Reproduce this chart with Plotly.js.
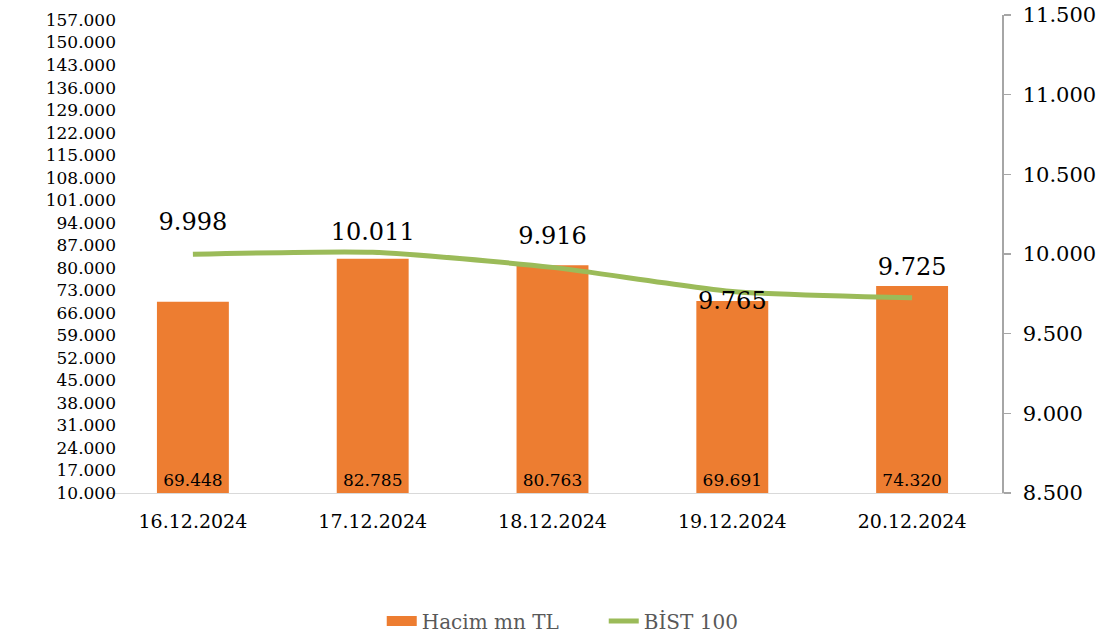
<!DOCTYPE html>
<html>
<head>
<meta charset="utf-8">
<script src="https://cdn.plot.ly/plotly-3.0.1.min.js"></script>
<style>html,body{margin:0;padding:0;background:#fff;}#chart{width:1109px;height:639px;}</style>
</head>
<body>
<div id="chart"></div>
<script>
const categories = ["16.12.2024", "17.12.2024", "18.12.2024", "19.12.2024", "20.12.2024"];
const hacim = [69448, 82785, 80763, 69691, 74320];
const hacimLabels = ["69.448", "82.785", "80.763", "69.691", "74.320"];
const bist = [9998, 10011, 9916, 9765, 9725];
const bistLabels = ["9.998", "10.011", "9.916", "9.765", "9.725"];
const leftTicks = [];
for (let v = 10000; v <= 157000; v += 7000) leftTicks.push(v);
const leftTickText = leftTicks.map(v => (v / 1000).toFixed(3));
const rightTicks = [8500, 9000, 9500, 10000, 10500, 11000, 11500];
const rightTickText = rightTicks.map(v => (v / 1000).toFixed(3));

const AXIS_MIN = 10000;
const W = 1109, L = 103, R = 107;
const FONT = "DejaVu Serif, Liberation Serif, serif";

const traces = [
  {
    type: "bar", name: "Hacim mn TL", x: categories,
    base: AXIS_MIN, y: hacim.map(v => v - AXIS_MIN),
    marker: {color: "#ED7D31", line: {width: 0}}, width: 0.4,
    text: hacimLabels, textposition: "inside", insidetextanchor: "start",
    textfont: {family: FONT, size: 17, color: "#000"}, textangle: 0,
    showlegend: false, hoverinfo: "skip"
  },
  {
    type: "scatter", mode: "lines", name: "Hacim mn TL", x: [null], y: [null],
    line: {color: "#ED7D31", width: 13}, showlegend: true, hoverinfo: "skip"
  },
  {
    type: "scatter", mode: "lines+markers+text", name: "BİST 100", x: categories, y: bist,
    yaxis: "y2",
    line: {color: "#9BBB59", width: 5, shape: "spline", smoothing: 0.6},
    marker: {size: [27, 9, 27, 0, 26], color: "rgba(0,0,0,0)", line: {width: 0}},
    text: bistLabels,
    textposition: ["top center", "top center", "top center", "bottom center", "top center"],
    textfont: {family: FONT, size: 24, color: "#000"},
    cliponaxis: false, hoverinfo: "skip"
  }
];

const layout = {
  width: W, height: 639,
  margin: {l: L, r: R, t: 15, b: 146},
  paper_bgcolor: "#fff", plot_bgcolor: "#fff",
  font: {family: FONT, color: "#000"},
  showlegend: true,
  legend: {orientation: "h", x: 0.557, xanchor: "center", yref: "container", y: 0.028, yanchor: "middle",
    font: {family: FONT, size: 20, color: "#595959"}, traceorder: "normal",
    entrywidth: 177, entrywidthmode: "pixels"},
  xaxis: {
    type: "category", showgrid: false, zeroline: false,
    showline: true, linecolor: "#D9D9D9", linewidth: 1,
    ticks: "", tickfont: {family: FONT, size: 19, color: "#000"}, ticklabelstandoff: 11,
    range: [-0.5, 4.5], fixedrange: true
  },
  yaxis: {
    range: [AXIS_MIN, 158560], tickvals: leftTicks, ticktext: leftTickText,
    showgrid: false, zeroline: false, showline: false, ticks: "",
    tickfont: {family: FONT, size: 17, color: "#000"},
    anchor: "free", position: (116 - L) / (W - L - R)
  },
  yaxis2: {
    overlaying: "y", side: "right", range: [8500, 11500],
    tickvals: rightTicks, ticktext: rightTickText,
    showgrid: false, zeroline: false, showline: true, linecolor: "#A6A6A6", linewidth: 1.5,
    ticks: "outside", ticklen: 7, tickcolor: "#A6A6A6", tickwidth: 1.5,
    tickfont: {family: FONT, size: 21, color: "#000"}, ticklabelstandoff: 8
  }
};

Plotly.newPlot("chart", traces, layout, {staticPlot: true, displayModeBar: false});
</script>
</body>
</html>
